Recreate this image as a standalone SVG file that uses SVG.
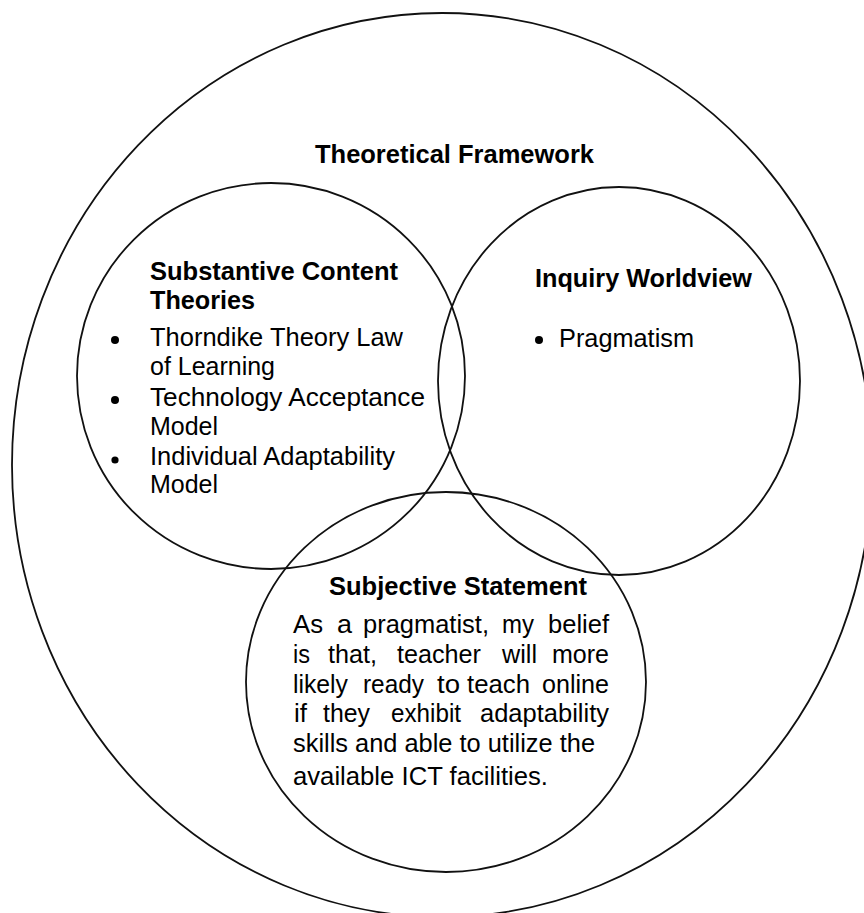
<svg xmlns="http://www.w3.org/2000/svg" width="864" height="913" viewBox="0 0 864 913">
  <style>
    .ring { fill: none; stroke: #111; stroke-width: 1.8; }
    .head { font-family: "Liberation Sans", Arial, sans-serif; font-weight: bold; font-size: 25px; fill: #000; }
    .body { font-family: "Liberation Sans", Arial, sans-serif; font-size: 25px; fill: #000; }
    .dot { fill: #000; }
  </style>
  <rect width="864" height="913" fill="#fff"/>

  <!-- outer frame -->
  <g id="theoretical-framework">
    <ellipse class="ring" cx="442" cy="465" rx="430" ry="452"/>
    <text class="head" x="315" y="163" textLength="279" lengthAdjust="spacingAndGlyphs">Theoretical Framework</text>
  </g>

  <!-- left circle -->
  <g id="substantive-content-theories">
    <ellipse class="ring" cx="271" cy="376" rx="194" ry="193"/>
    <text class="head" x="150" y="280" textLength="248" lengthAdjust="spacingAndGlyphs">Substantive Content</text>
    <text class="head" x="150" y="309" textLength="105" lengthAdjust="spacingAndGlyphs">Theories</text>
    <circle class="dot" cx="115" cy="340" r="4"/>
    <circle class="dot" cx="115" cy="400" r="4"/>
    <circle class="dot" cx="115" cy="460" r="3.6"/>
    <text class="body" x="150" y="346" textLength="253" lengthAdjust="spacingAndGlyphs">Thorndike Theory Law</text>
    <text class="body" x="150" y="375" textLength="125" lengthAdjust="spacingAndGlyphs">of Learning</text>
    <text class="body" x="150" y="406" textLength="275" lengthAdjust="spacingAndGlyphs">Technology Acceptance</text>
    <text class="body" x="150" y="435" textLength="68" lengthAdjust="spacingAndGlyphs">Model</text>
    <text class="body" x="150" y="465" textLength="245" lengthAdjust="spacingAndGlyphs">Individual Adaptability</text>
    <text class="body" x="150" y="493" textLength="68" lengthAdjust="spacingAndGlyphs">Model</text>
  </g>

  <!-- right circle -->
  <g id="inquiry-worldview">
    <ellipse class="ring" cx="619" cy="381" rx="181" ry="194"/>
    <text class="head" x="535" y="287" textLength="217" lengthAdjust="spacingAndGlyphs">Inquiry Worldview</text>
    <circle class="dot" cx="539" cy="340" r="4"/>
    <text class="body" x="559" y="347" textLength="135" lengthAdjust="spacingAndGlyphs">Pragmatism</text>
  </g>

  <!-- bottom circle: justified paragraph, one tspan per word -->
  <g id="subjective-statement">
    <ellipse class="ring" cx="446" cy="682" rx="200" ry="190"/>
    <text class="head" x="329" y="595" textLength="258" lengthAdjust="spacingAndGlyphs">Subjective Statement</text>
    <text class="body" y="633"><tspan x="293" textLength="30" lengthAdjust="spacingAndGlyphs">As</tspan><tspan x="337" textLength="15" lengthAdjust="spacingAndGlyphs">a</tspan><tspan x="363" textLength="126" lengthAdjust="spacingAndGlyphs">pragmatist,</tspan><tspan x="502" textLength="32" lengthAdjust="spacingAndGlyphs">my</tspan><tspan x="548" textLength="61" lengthAdjust="spacingAndGlyphs">belief</tspan></text>
    <text class="body" y="663"><tspan x="293" textLength="17" lengthAdjust="spacingAndGlyphs">is</tspan><tspan x="328" textLength="49" lengthAdjust="spacingAndGlyphs">that,</tspan><tspan x="397" textLength="84" lengthAdjust="spacingAndGlyphs">teacher</tspan><tspan x="502" textLength="35" lengthAdjust="spacingAndGlyphs">will</tspan><tspan x="552" textLength="57" lengthAdjust="spacingAndGlyphs">more</tspan></text>
    <text class="body" y="693"><tspan x="293" textLength="55" lengthAdjust="spacingAndGlyphs">likely</tspan><tspan x="363" textLength="61" lengthAdjust="spacingAndGlyphs">ready</tspan><tspan x="437" textLength="23" lengthAdjust="spacingAndGlyphs">to</tspan><tspan x="467" textLength="63" lengthAdjust="spacingAndGlyphs">teach</tspan><tspan x="542" textLength="67" lengthAdjust="spacingAndGlyphs">online</tspan></text>
    <text class="body" y="722"><tspan x="294" textLength="13" lengthAdjust="spacingAndGlyphs">if</tspan><tspan x="323" textLength="47" lengthAdjust="spacingAndGlyphs">they</tspan><tspan x="391" textLength="70" lengthAdjust="spacingAndGlyphs">exhibit</tspan><tspan x="480" textLength="129" lengthAdjust="spacingAndGlyphs">adaptability</tspan></text>
    <text class="body" x="293" y="752" textLength="302" lengthAdjust="spacingAndGlyphs">skills and able to utilize the</text>
    <text class="body" x="293" y="785" textLength="255" lengthAdjust="spacingAndGlyphs">available ICT facilities.</text>
  </g>
</svg>
